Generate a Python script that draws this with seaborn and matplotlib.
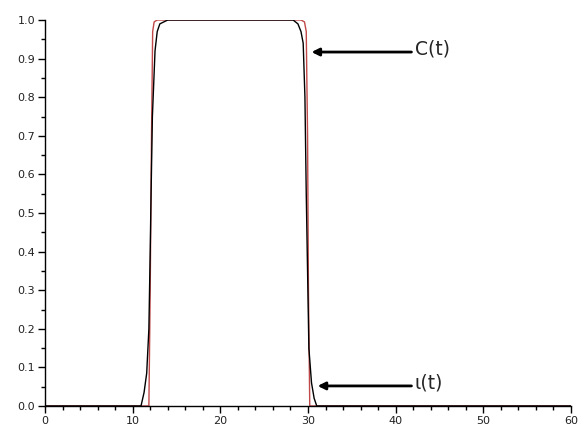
import numpy as np
import pandas as pd
import matplotlib
matplotlib.use('Agg')
import matplotlib.pyplot as plt
from matplotlib.ticker import MultipleLocator
import seaborn as sns

# Curve samples
t_C = [0, 10.95, 11.3, 11.6, 11.85, 12.0, 12.1, 12.25, 12.55, 12.8, 13.1, 14.0,
       28.3, 28.85, 29.2, 29.45, 29.65, 29.8, 29.95, 30.1, 30.4, 30.7, 31.0, 60]
C_vals = [0, 0, 0.035, 0.085, 0.2, 0.4, 0.55, 0.75, 0.92, 0.97, 0.99, 1.0,
          1.0, 0.99, 0.97, 0.94, 0.8, 0.55, 0.35, 0.15, 0.06, 0.02, 0, 0]

t_iota = [0, 11.85, 12.0, 12.15, 12.28, 12.45, 12.8, 29.2, 29.6, 29.8, 29.95, 30.05, 30.2, 60]
iota_vals = [0, 0, 0.3, 0.7, 0.97, 0.995, 1.0, 1.0, 0.995, 0.97, 0.7, 0.3, 0, 0]

labels = ['C(t)', 'ι(t)']

df_C = pd.DataFrame({'t': t_C, 'v': C_vals})
df_iota = pd.DataFrame({'t': t_iota, 'v': iota_vals})

sns.set_style('ticks')
plt.rcParams['font.family'] = ['DejaVu Sans']

fig = plt.figure(figsize=(5.84, 4.28), dpi=100)
ax = fig.add_axes([45 / 584, 22 / 428, 526 / 584, 386 / 428])

sns.lineplot(data=df_iota, x='t', y='v', ax=ax, color='#c04848', lw=1.0, sort=False)
sns.lineplot(data=df_C, x='t', y='v', ax=ax, color='black', lw=1.0, sort=False)

ax.set_xlim(0, 60)
ax.set_ylim(0, 1.0)
ax.xaxis.set_major_locator(MultipleLocator(10))
ax.xaxis.set_minor_locator(MultipleLocator(2))
ax.yaxis.set_major_locator(MultipleLocator(0.1))
ax.yaxis.set_minor_locator(MultipleLocator(0.05))
ax.set_xlabel('')
ax.set_ylabel('')
ax.tick_params(which='major', length=5, width=1, color='black', labelsize=8,
               labelcolor='#222222', pad=2)
ax.tick_params(which='minor', length=3, width=1, color='black')
ax.yaxis.set_major_formatter(matplotlib.ticker.FormatStrFormatter('%.1f'))
for s in ['left', 'bottom']:
    ax.spines[s].set_linewidth(1)
    ax.spines[s].set_color('black')
sns.despine(ax=ax)

arrow = dict(arrowstyle='-|>', color='black', lw=2, mutation_scale=11, shrinkA=0, shrinkB=0)
ax.annotate('', xy=(30.4, 0.917), xytext=(41.8, 0.917), arrowprops=arrow)
ax.text(42.2, 0.925, labels[0], fontsize=13.5, va='center', ha='left')
ax.annotate('', xy=(31.1, 0.052), xytext=(41.8, 0.052), arrowprops=arrow)
ax.text(42.2, 0.06, labels[1], fontsize=13.5, va='center', ha='left')

plt.savefig('out.png', dpi=100)
plt.close()
